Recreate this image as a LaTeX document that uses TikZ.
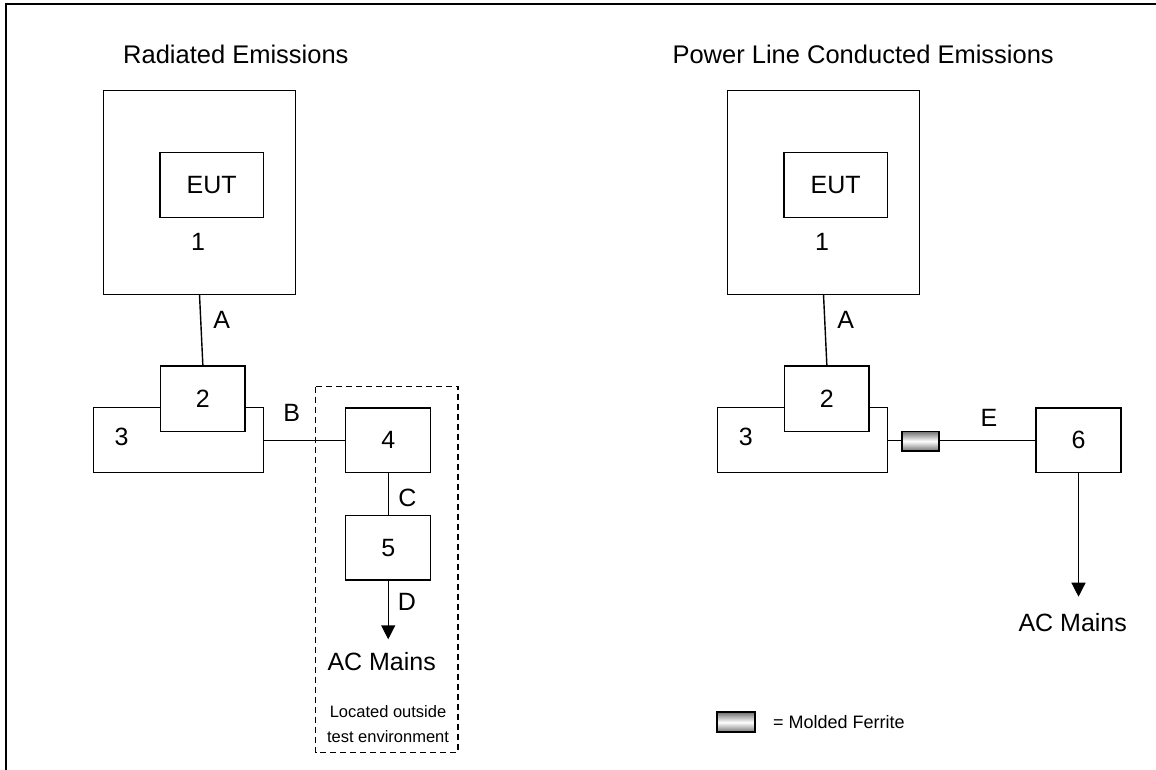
\documentclass[tikz,border=0pt]{standalone}
\usepackage{fontspec}
\setmainfont{Liberation Sans}
\usetikzlibrary{arrows.meta}
\begin{document}
\begin{tikzpicture}[x=1pt,y=-1pt,
  box/.style={draw,line width=1.4pt,fill=white,inner sep=0pt,outer sep=0pt,
    font=\fontsize{25}{30}\selectfont},
  lbl/.style={inner sep=0pt,font=\fontsize{25}{30}\selectfont},
  ttl/.style={inner sep=0pt,font=\fontsize{25.5}{30}\selectfont},
  small/.style={inner sep=0pt,font=\fontsize{18}{25}\selectfont},
  note/.style={inner sep=0pt,font=\fontsize{16.5}{25}\selectfont},
  wire/.style={line width=1.4pt},
  arr/.style={line width=1.4pt,-{Triangle[length=14pt,width=14pt]}},
  ferrite/.style={draw,line width=1.8pt,inner sep=0pt,outer sep=0pt,
    top color=black!55,bottom color=black!55,middle color=white}
]
\useasboundingbox (0,0) rectangle (1156,770);
% outer frame (top and left)
\draw[line width=2pt] (6,770) -- (6,4) -- (1156,4);

% ---------- Radiated Emissions ----------
\node[ttl,anchor=west] (t1) at (123,54) {Radiated Emissions};
\node[box,minimum width=192.4pt,minimum height=203.6pt] (l1) at (199.5,192.5) {};
\node[box,minimum width=103.3pt,minimum height=65pt] (leut) at (211.7,185.2) {EUT};
\node[lbl] (l1t) at (198,241.7) {1};
\node[box,minimum width=170pt,minimum height=65pt] (l3) at (178.3,440.2) {};
\node[lbl] (l3t) at (121.7,436.7) {3};
\node[box,minimum width=84.3pt,minimum height=65.7pt] (l2) at (202.9,398.9) {2};
\draw[wire] (l1.south) -- (l2.north);
\node[lbl] (la) at (221.7,320) {A};
\draw[dashed,line width=1.3pt,dash pattern=on 6pt off 4pt] (315.7,386.7) rectangle (458,752.3);
\node[box,minimum width=85pt,minimum height=64.3pt] (l4) at (388.2,440.2) {4};
\node[box,minimum width=85pt,minimum height=64.3pt] (l5) at (388.2,547.9) {5};
\draw[wire] (l3.east) -- (l4.west);
\node[lbl] (lb) at (291.7,413) {B};
\draw[wire] (l4.south) -- (l5.north);
\node[lbl] (lc) at (407.3,498.3) {C};
\coordinate (lend) at (388.2,639.3);
\draw[arr] (l5.south) -- (lend);
\node[lbl] (ld) at (407,601.7) {D};
\node[lbl] (lac) at (381.7,661.7) {AC Mains};
\node[note,align=center] (lout) at (388,724.2) {Located outside\\test environment};

% ---------- Power Line Conducted Emissions ----------
\node[ttl,anchor=east] (t2) at (1054,54) {Power Line Conducted Emissions};
\node[box,minimum width=192.4pt,minimum height=203.6pt] (r1) at (823.5,192.5) {};
\node[box,minimum width=103.3pt,minimum height=65pt] (reut) at (835.7,185.2) {EUT};
\node[lbl] (r1t) at (822,241.7) {1};
\node[box,minimum width=170pt,minimum height=65pt] (r3) at (802.3,440.2) {};
\node[lbl] (r3t) at (745.7,436.7) {3};
\node[box,minimum width=84.3pt,minimum height=65.7pt] (r2) at (826.9,398.9) {2};
\draw[wire] (r1.south) -- (r2.north);
\node[lbl] (ra) at (845.7,320) {A};
\node[ferrite,minimum width=37.6pt,minimum height=19.3pt] (fer) at (920.5,441.2) {};
\node[box,minimum width=85pt,minimum height=64.7pt] (r6) at (1078.5,440.3) {6};
\draw[wire] (r3.east) -- (r3.east -| fer.west);
\draw[wire] (fer.east |- r6.west) -- (r6.west);
\node[lbl] (re) at (989,418.3) {E};
\coordinate (rend) at (1078.5,596.7);
\draw[arr] (r6.south) -- (rend);
\node[lbl] (rac) at (1072.7,622.7) {AC Mains};

% legend
\node[ferrite,minimum width=38.3pt,minimum height=20pt] (legf) at (735.8,722.3) {};
\node[small,anchor=west] (legt) at (773,721.7) {= Molded Ferrite};
\end{tikzpicture}
\end{document}
